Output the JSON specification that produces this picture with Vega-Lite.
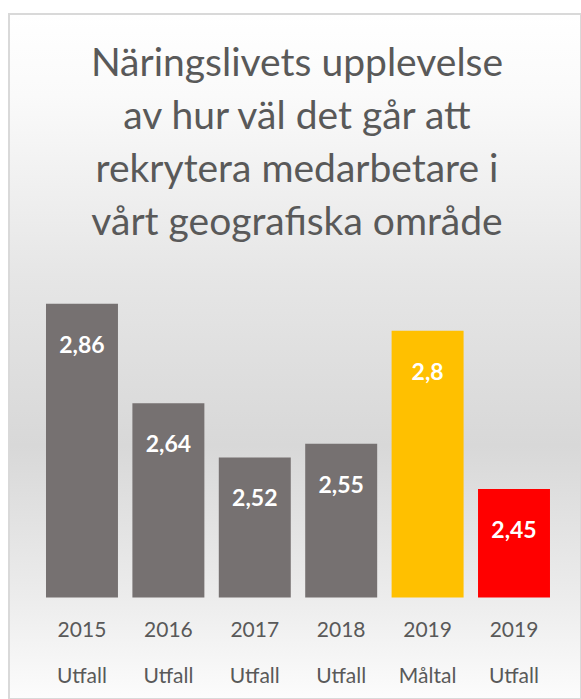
{
  "$schema": "https://vega.github.io/schema/vega-lite/v6.json",
  "width": 572,
  "height": 685,
  "autosize": "none",
  "padding": {"left": 9, "top": 14, "right": 0, "bottom": 0},
  "background": "#ffffff",
  "title": {
    "text": ["Näringslivets upplevelse", "av hur väl det går att", "rekrytera medarbetare i", "vårt geografiska område"],
    "font": "Lato",
    "fontSize": 39,
    "fontWeight": "normal",
    "color": "#595959",
    "lineHeight": 53,
    "anchor": "middle",
    "orient": "top",
    "offset": -229,
    "dx": 2
  },
  "data": {
    "values": [
      {"kategori": "2015 Utfall", "varde": 2.86},
      {"kategori": "2016 Utfall", "varde": 2.64},
      {"kategori": "2017 Utfall", "varde": 2.52},
      {"kategori": "2018 Utfall", "varde": 2.55},
      {"kategori": "2019 Måltal", "varde": 2.8},
      {"kategori": "2019 Utfall", "varde": 2.45}
    ]
  },
  "encoding": {
    "x": {
      "field": "kategori",
      "type": "nominal",
      "sort": null,
      "scale": {"paddingInner": 0.167, "paddingOuter": 0.3935, "align": 0.544},
      "axis": {
        "title": null,
        "orient": "bottom",
        "offset": -80,
        "domain": false,
        "ticks": false,
        "tickSize": 0,
        "labelPadding": 0,
        "labelAngle": 0,
        "labelFont": "Lato",
        "labelFontSize": 21,
        "labelColor": "#595959",
        "labelLineHeight": 46,
        "labelBaseline": "top",
        "labelExpr": "split(datum.label, ' ')"
      }
    },
    "y": {
      "field": "varde",
      "type": "quantitative",
      "scale": {"domain": [1.9855, 3.501], "nice": false, "zero": false},
      "axis": null
    }
  },
  "layer": [
    {
      "mark": {"type": "bar"},
      "encoding": {
        "y2": {"datum": 2.21},
        "color": {
          "field": "kategori",
          "type": "nominal",
          "sort": null,
          "scale": {
            "domain": ["2015 Utfall", "2016 Utfall", "2017 Utfall", "2018 Utfall", "2019 Måltal", "2019 Utfall"],
            "range": ["#767171", "#767171", "#767171", "#767171", "#FFC000", "#FF0000"]
          },
          "legend": null
        }
      }
    },
    {
      "mark": {
        "type": "text",
        "baseline": "middle",
        "align": "center",
        "dy": 42,
        "font": "Lato",
        "fontSize": 23,
        "fontWeight": "bold",
        "color": "#ffffff"
      },
      "encoding": {
        "text": {"field": "varde", "type": "quantitative", "format": ".2~f"}
      }
    }
  ],
  "config": {
    "locale": {
      "number": {"decimal": ",", "thousands": " ", "grouping": [3], "currency": ["", " kr"]}
    },
    "view": {
      "stroke": "#d9d9d9",
      "strokeWidth": 2,
      "fill": {
        "gradient": "linear",
        "x1": 0, "y1": 0, "x2": 0, "y2": 1,
        "stops": [
          {"offset": 0, "color": "#ffffff"},
          {"offset": 0.12, "color": "#fafafa"},
          {"offset": 0.38, "color": "#e6e6e6"},
          {"offset": 0.63, "color": "#d8d8d8"},
          {"offset": 0.85, "color": "#ececec"},
          {"offset": 1, "color": "#fcfcfc"}
        ]
      }
    }
  }
}
